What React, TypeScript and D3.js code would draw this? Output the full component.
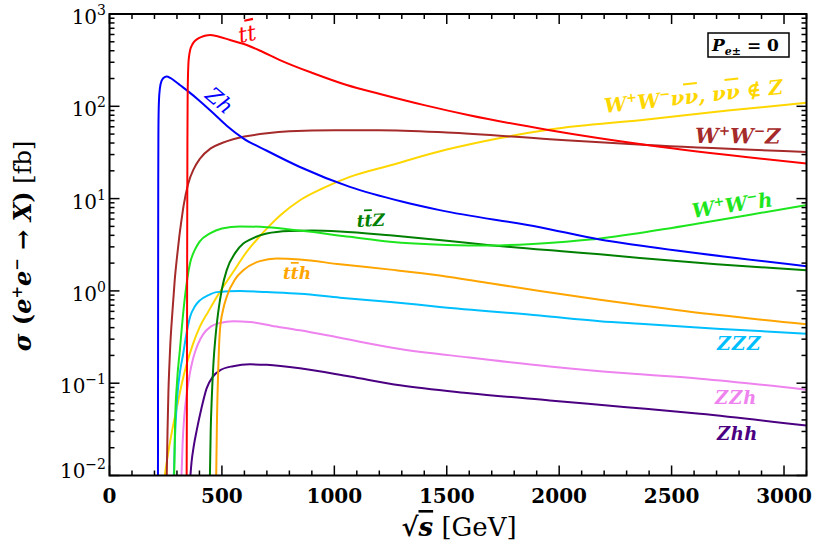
import React from "react";
import * as d3 from "d3";

// ---- data (sqrt(s) in GeV, sigma in fb) ----
const ttbarSqrtS = [343, 344.5, 345.5, 346.5, 347.5, 349, 351, 354, 359, 366, 375, 390, 410, 430, 446, 480, 536, 610, 680, 758, 906, 1055, 1203, 1400, 1600, 1958, 2390, 3100];
const ttbarSigma = [0.008, 0.1, 3, 40, 120, 210, 290, 350, 410, 455, 495, 535, 565, 585, 592, 575, 522, 461, 390, 317, 228, 170, 136, 103, 80, 55, 38, 24];

const zhSqrtS = [215.5, 216.2, 216.8, 217.5, 218.5, 220, 224, 232, 245, 255, 270, 290, 313, 350, 400, 462, 520, 595, 700, 847, 1069, 1300, 1469, 1914, 2181, 2359, 3100];
const zhSigma = [0.008, 1, 15, 50, 85, 115, 155, 190, 207, 210, 203, 188, 170, 145, 115, 84, 62, 45, 33, 22, 13.4, 9.3, 7.5, 4.9, 3.6, 3.1, 1.85];

const wwzSqrtS = [254, 258, 262, 266, 270, 280, 290, 300, 310, 320, 330, 350, 375, 402, 450, 500, 550, 600, 700, 800, 1000, 1200, 1500, 1958, 2390, 3100];
const wwzSigma = [0.008, 0.03, 0.08, 0.15, 0.25, 0.6, 1.3, 2.3, 3.8, 5.8, 8.5, 14.5, 21, 27, 35, 40, 44, 47, 51, 53.5, 55, 55, 52, 44, 38, 32];

const wwnnSqrtS = [240, 260, 280, 300, 320, 343, 370, 402, 440, 477, 550, 600, 684, 760, 847, 950, 1069, 1250, 1500, 1750, 1958, 2390, 2750, 3100];
const wwnnSigma = [0.008, 0.017, 0.032, 0.055, 0.095, 0.16, 0.26, 0.41, 0.6, 0.86, 1.6, 2.45, 4.3, 6.6, 9.6, 13, 17.2, 23, 34, 46, 56, 72, 90, 109];

const wwhSqrtS = [287, 292, 300, 313, 330, 345, 358, 380, 400, 447, 500, 580, 700, 847, 1069, 1247, 1500, 1692, 1900, 2137, 2359, 2626, 2850, 3100];
const wwhSigma = [0.008, 0.04, 0.1, 0.23, 0.65, 1.3, 1.98, 2.8, 3.4, 4.2, 4.75, 5.0, 4.9, 4.5, 3.85, 3.4, 3.15, 3.1, 3.25, 3.6, 4.25, 5.4, 6.7, 8.5];

const ttzSqrtS = [446, 450, 455, 462, 472, 484, 500, 521, 560, 595, 625, 699, 800, 900, 1025, 1247, 1500, 1692, 2000, 2181, 2359, 2700, 3100];
const ttzSigma = [0.008, 0.03, 0.07, 0.16, 0.33, 0.6, 1.05, 1.67, 2.6, 3.26, 3.6, 4.18, 4.45, 4.5, 4.4, 4.0, 3.5, 3.13, 2.7, 2.49, 2.27, 1.95, 1.67];

const tthSqrtS = [474, 478, 484, 491, 505, 521, 560, 595, 669, 743, 847, 1025, 1250, 1469, 1700, 1914, 2181, 2359, 2700, 3100];
const tthSigma = [0.008, 0.04, 0.15, 0.37, 0.62, 0.86, 1.35, 1.67, 2.1, 2.24, 2.19, 1.94, 1.7, 1.47, 1.2, 1.0, 0.8, 0.7, 0.55, 0.435];

const zzzSqrtS = [285, 291, 298, 306, 315, 328, 340, 358, 380, 402, 440, 477, 580, 700, 847, 1025, 1250, 1469, 1914, 2181, 2359, 2700, 3100];
const zzzSigma = [0.008, 0.025, 0.055, 0.095, 0.14, 0.21, 0.32, 0.52, 0.68, 0.79, 0.9, 0.97, 1.0, 0.97, 0.93, 0.845, 0.76, 0.67, 0.54, 0.47, 0.44, 0.39, 0.344];

const zzhSqrtS = [319, 325, 333, 343, 358, 373, 395, 417, 450, 491, 550, 625, 720, 847, 1025, 1292, 1600, 1958, 2300, 2626, 3100];
const zzhSigma = [0.008, 0.022, 0.045, 0.075, 0.13, 0.19, 0.27, 0.34, 0.41, 0.45, 0.47, 0.46, 0.42, 0.374, 0.31, 0.235, 0.19, 0.152, 0.128, 0.112, 0.085];

const zhhSqrtS = [357, 365, 375, 388, 410, 432, 460, 491, 550, 625, 700, 847, 1069, 1292, 1600, 1958, 2300, 2626, 3100];
const zhhSigma = [0.008, 0.014, 0.021, 0.031, 0.055, 0.088, 0.118, 0.138, 0.153, 0.16, 0.158, 0.145, 0.118, 0.095, 0.078, 0.065, 0.055, 0.0466, 0.0348];

const xMajorTicks = [0, 500, 1000, 1500, 2000, 2500, 3000];
const yDecades = [-2, -1, 0, 1, 2, 3];

const W = 818;
const H = 551;
const X0 = 109.5, X1 = 806.5, Y0 = 14, Y1 = 475.5;

const series = [
  { key: "wwnn", xs: wwnnSqrtS, ys: wwnnSigma, color: "#ffd700" },
  { key: "zhh", xs: zhhSqrtS, ys: zhhSigma, color: "#4b0082" },
  { key: "zzh", xs: zzhSqrtS, ys: zzhSigma, color: "#ee82ee" },
  { key: "zzz", xs: zzzSqrtS, ys: zzzSigma, color: "#00bfff" },
  { key: "tth", xs: tthSqrtS, ys: tthSigma, color: "#ffa500" },
  { key: "ttz", xs: ttzSqrtS, ys: ttzSigma, color: "#008000" },
  { key: "wwh", xs: wwhSqrtS, ys: wwhSigma, color: "#1ee61e" },
  { key: "wwz", xs: wwzSqrtS, ys: wwzSigma, color: "#a52a2a" },
  { key: "zh", xs: zhSqrtS, ys: zhSigma, color: "#0000ff" },
  { key: "ttbar", xs: ttbarSqrtS, ys: ttbarSigma, color: "#ff0000" },
];

function WW({ last, sup }: { last: React.ReactNode; sup: number }) {
  return (
    <>
      W<tspan dy={-sup} fontSize="0.65em">+</tspan>
      <tspan dy={sup}>W</tspan>
      <tspan dy={-sup} fontSize="0.65em">−</tspan>
      <tspan dy={sup}>{last}</tspan>
    </>
  );
}

const Bar = ({ c }: { c: string }) => <tspan textDecoration="overline">{c}</tspan>;

export default function App() {
  const x = d3.scaleLinear().domain([0, 3100]).range([X0, X1]);
  const y = d3.scaleLog().domain([1e-2, 1e3]).range([Y1, Y0]);

  const line = d3
    .line<[number, number]>()
    .x((d) => x(d[0]))
    .y((d) => y(d[1]))
    .curve(d3.curveMonotoneX);

  const xMinor = d3.range(0, 3101, 100).filter((v) => v % 500 !== 0);
  const yMinor: number[] = [];
  yDecades.slice(0, -1).forEach((e) => {
    for (let m = 2; m <= 9; m++) yMinor.push(m * Math.pow(10, e));
  });

  const font = "'DejaVu Serif', serif";
  const lab = { fontFamily: font, fontStyle: "italic" as const, fontWeight: 700 as const };

  return (
    <svg width={W} height={H} style={{ position: "absolute", left: 0, top: 0, background: "#fff" }}>
      <defs>
        <clipPath id="plot">
          <rect x={X0} y={Y0} width={X1 - X0} height={Y1 - Y0} />
        </clipPath>
      </defs>
      <rect x={0} y={0} width={W} height={H} fill="#fff" />

      <g clipPath="url(#plot)" fill="none" strokeWidth={2}>
        {series.map((s) => (
          <path
            key={s.key}
            d={line(d3.zip(s.xs, s.ys) as [number, number][]) || ""}
            stroke={s.color}
            strokeLinejoin="round"
          />
        ))}
      </g>

      {/* ticks */}
      <g stroke="#000" strokeWidth={1.5}>
        {xMajorTicks.map((v) => (
          <g key={"xM" + v}>
            <line x1={x(v)} x2={x(v)} y1={Y1} y2={Y1 - 10} />
            <line x1={x(v)} x2={x(v)} y1={Y0} y2={Y0 + 10} />
          </g>
        ))}
        {xMinor.map((v) => (
          <g key={"xm" + v}>
            <line x1={x(v)} x2={x(v)} y1={Y1} y2={Y1 - 5} />
            <line x1={x(v)} x2={x(v)} y1={Y0} y2={Y0 + 5} />
          </g>
        ))}
        {yDecades.map((e) => (
          <g key={"yM" + e}>
            <line x1={X0} x2={X0 + 10} y1={y(Math.pow(10, e))} y2={y(Math.pow(10, e))} />
            <line x1={X1} x2={X1 - 10} y1={y(Math.pow(10, e))} y2={y(Math.pow(10, e))} />
          </g>
        ))}
        {yMinor.map((v, i) => (
          <g key={"ym" + i}>
            <line x1={X0} x2={X0 + 5} y1={y(v)} y2={y(v)} />
            <line x1={X1} x2={X1 - 5} y1={y(v)} y2={y(v)} />
          </g>
        ))}
      </g>

      <rect x={X0} y={Y0} width={X1 - X0} height={Y1 - Y0} fill="none" stroke="#000" strokeWidth={2} />

      {/* x tick labels */}
      <g fontFamily={font} fontWeight={700} fontSize={20} textAnchor="middle" fill="#000">
        {xMajorTicks.map((v) => (
          <text key={"xl" + v} x={x(v)} y={503}>
            {v}
          </text>
        ))}
      </g>

      {/* y tick labels */}
      <g fontFamily={font} fontSize={20} textAnchor="end" fill="#000">
        {yDecades.map((e) => (
          <text key={"yl" + e} x={106} y={y(Math.pow(10, e)) + (e === -2 ? 2 : 10)}>
            10
            <tspan dy={-9} fontSize={14}>
              {e < 0 ? "\u2212" + Math.abs(e) : String(e)}
            </tspan>
          </text>
        ))}
      </g>

      {/* axis titles */}
      <text x={459} y={536} textAnchor="middle" fontFamily={font} fontSize={26} fontWeight={700}>
        √<tspan fontStyle="italic" textDecoration="overline">s</tspan>
        <tspan fontWeight={400}> [GeV]</tspan>
      </text>
      <text
        transform="translate(31,246) rotate(-90)"
        textAnchor="middle"
        fontFamily={font}
        fontSize={24}
        fontWeight={700}
      >
        <tspan fontStyle="italic">σ</tspan> (<tspan fontStyle="italic">e</tspan>
        <tspan dy={-9} fontSize={15}>+</tspan>
        <tspan dy={9} fontStyle="italic">e</tspan>
        <tspan dy={-9} fontSize={15}>−</tspan>
        <tspan dy={9}> → </tspan>
        <tspan fontStyle="italic">X</tspan>)<tspan fontWeight={400}> [fb]</tspan>
      </text>

      {/* polarisation box */}
      <rect x={708} y={33} width={81} height={24} fill="#fff" stroke="#000" strokeWidth={1.5} />
      <text x={712} y={51} fontFamily={font} fontSize={17} fontWeight={700}>
        <tspan fontStyle="italic">P</tspan>
        <tspan dy={4} fontSize={11} fontStyle="italic">e±</tspan>
        <tspan dy={-4}> = 0</tspan>
      </text>

      {/* curve labels */}
      <text transform="translate(240,43) rotate(-12)" {...lab} fontWeight={400} fontSize={22} fill="#ff0000">
        t<Bar c="t" />
      </text>
      <text transform="translate(204,97) rotate(40)" {...lab} fontWeight={400} fontSize={21} fill="#0000ff">
        Zh
      </text>
      <text transform="translate(605,113) rotate(-6.2)" {...lab} fontSize={20} fill="#ffd700">
        <WW last={<>ν<Bar c="ν" />, ν<Bar c="ν" /> ∉ Z</>} sup={8} />
      </text>
      <text transform="translate(695,143) rotate(0.5)" {...lab} fontSize={21} fill="#a52a2a">
        <WW last="Z" sup={8} />
      </text>
      <text transform="translate(693,218) rotate(-8.5)" {...lab} fontSize={20} fill="#1ee61e">
        <WW last="h" sup={8} />
      </text>
      <text transform="translate(357,227) rotate(-3)" {...lab} fontSize={17} fill="#008000">
        t<Bar c="t" />Z
      </text>
      <text transform="translate(283,279)" {...lab} fontSize={17} fill="#ffa500">
        t<Bar c="t" />h
      </text>
      <text transform="translate(717,350)" {...lab} fontSize={19} letterSpacing={1} fill="#00bfff">
        ZZZ
      </text>
      <text transform="translate(715,404)" {...lab} fontSize={18} letterSpacing={1} fill="#ee82ee">
        ZZh
      </text>
      <text transform="translate(717,440)" {...lab} fontSize={18} letterSpacing={0.5} fill="#4b0082">
        Zhh
      </text>
    </svg>
  );
}
